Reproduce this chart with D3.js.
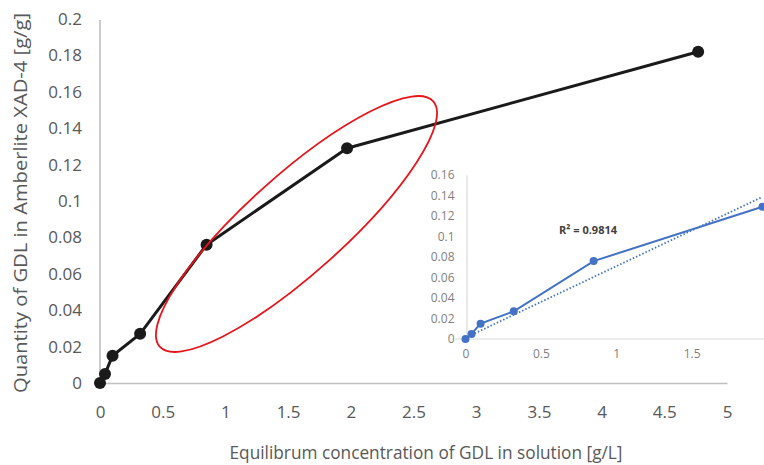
<!DOCTYPE html>
<html>
<head>
  <meta charset="utf-8">
  <script src="https://d3js.org/d3.v7.min.js"></script>
  <style>
    body { margin: 0; background: #fff; }
    text { font-family: "Open Sans", "Noto Sans", sans-serif; }
  </style>
</head>
<body>
<script>
  // isotherm points
  var conc = [0, 0.04, 0.10, 0.32, 0.85, 1.97, 4.77];
  var qty  = [0, 0.005, 0.015, 0.027, 0.076, 0.129, 0.182];

  // inset: first six points, plus the dotted linear trendline ends
  var insetConc = [0, 0.04, 0.10, 0.32, 0.85, 1.97];
  var insetQty  = [0, 0.005, 0.015, 0.027, 0.076, 0.129];
  var trendConc = [0.04, 1.96];
  var trendQty  = [0.004, 0.138];
  var r2Label = "R\u00B2 = 0.9814";

  var xTicks = [0, 0.5, 1, 1.5, 2, 2.5, 3, 3.5, 4, 4.5, 5];
  var yTicks = [0, 0.02, 0.04, 0.06, 0.08, 0.1, 0.12, 0.14, 0.16, 0.18, 0.2];
  var insetXTicks = [0, 0.5, 1, 1.5, 2];
  var insetYTicks = [0, 0.02, 0.04, 0.06, 0.08, 0.1, 0.12, 0.14, 0.16];

  var xTitle = "Equilibrum concentration of GDL in solution [g/L]";
  var yTitle = "Quantity of GDL in Amberlite XAD-4 [g/g]";

  var width = 764, height = 465;
  var svg = d3.select("body").append("svg")
      .attr("width", width)
      .attr("height", height);

  /* main chart */
  var x = d3.scaleLinear().domain([0, 5]).range([100, 727]);
  var y = d3.scaleLinear().domain([0, 0.2]).range([383, 19]);

  var xAxis = svg.append("g")
      .attr("transform", "translate(0," + y(0) + ")")
      .call(d3.axisBottom(x).tickValues(xTicks).tickSize(0).tickPadding(23)
            .tickFormat(function (d) { return String(d); }));
  var yAxis = svg.append("g")
      .attr("transform", "translate(" + x(0) + ",0)")
      .call(d3.axisLeft(y).tickValues(yTicks).tickSize(0).tickPadding(18)
            .tickFormat(function (d) { return String(d); }));
  yAxis.select(".domain").attr("d", "M0," + (y(0.2) + 1) + "V" + y(0));

  [xAxis, yAxis].forEach(function (g) {
    g.select(".domain").attr("stroke", "#bfbfbf").attr("stroke-width", 1.6);
    g.selectAll("text")
      .attr("fill", "#595959")
      .style("font-size", "17px");
  });

  svg.append("text")
      .attr("x", 426).attr("y", 459)
      .attr("text-anchor", "middle")
      .attr("fill", "#595959")
      .attr("textLength", 393)
      .attr("lengthAdjust", "spacingAndGlyphs")
      .style("font-size", "18px")
      .text(xTitle);

  svg.append("text")
      .attr("transform", "translate(27,203) rotate(-90)")
      .attr("text-anchor", "middle")
      .attr("fill", "#595959")
      .attr("textLength", 380)
      .attr("lengthAdjust", "spacingAndGlyphs")
      .style("font-size", "18px")
      .text(yTitle);

  var mainPts = conc.map(function (c, i) { return [c, qty[i]]; });
  svg.append("path")
      .datum(mainPts)
      .attr("fill", "none")
      .attr("stroke", "#1a1a1a")
      .attr("stroke-width", 3)
      .attr("stroke-linejoin", "round")
      .attr("d", d3.line().x(function (d) { return x(d[0]); })
                          .y(function (d) { return y(d[1]); }));
  svg.selectAll("circle.main")
    .data(mainPts)
    .enter().append("circle")
      .attr("class", "main")
      .attr("cx", function (d) { return x(d[0]); })
      .attr("cy", function (d) { return y(d[1]); })
      .attr("r", 6)
      .attr("fill", "#1a1a1a");

  /* inset chart */
  var ix = d3.scaleLinear().domain([0, 2]).range([465.5, 767]);
  var iy = d3.scaleLinear().domain([0, 0.16]).range([339, 175]);

  var ixAxis = svg.append("g")
      .attr("transform", "translate(0," + iy(0) + ")")
      .call(d3.axisBottom(ix).tickValues(insetXTicks).tickSize(0).tickPadding(10)
            .tickFormat(function (d) { return String(d); }));
  ixAxis.select(".domain").attr("d", "M455,0H764");
  var iyAxis = svg.append("g")
      .attr("transform", "translate(" + (ix(0) + 1) + ",0)")
      .call(d3.axisLeft(iy).tickValues(insetYTicks).tickSize(0).tickPadding(12)
            .tickFormat(function (d) { return String(d); }));
  [ixAxis, iyAxis].forEach(function (g) {
    g.select(".domain").attr("stroke", "#d9d9d9").attr("stroke-width", 1.2);
    g.selectAll("text")
      .attr("fill", "#7f7f7f")
      .style("font-size", "12px");
  });

  var trendPts = trendConc.map(function (c, i) { return [c, trendQty[i]]; });
  svg.append("path")
      .datum(trendPts)
      .attr("fill", "none")
      .attr("stroke", "#4472c4")
      .attr("stroke-width", 1.8)
      .attr("stroke-dasharray", "1.5,2")
      .attr("d", d3.line().x(function (d) { return ix(d[0]); })
                          .y(function (d) { return iy(d[1]); }));

  var insetPts = insetConc.map(function (c, i) { return [c, insetQty[i]]; });
  svg.append("path")
      .datum(insetPts)
      .attr("fill", "none")
      .attr("stroke", "#4472c4")
      .attr("stroke-width", 2)
      .attr("d", d3.line().x(function (d) { return ix(d[0]); })
                          .y(function (d) { return iy(d[1]); }));
  svg.selectAll("circle.inset")
    .data(insetPts)
    .enter().append("circle")
      .attr("class", "inset")
      .attr("cx", function (d) { return ix(d[0]); })
      .attr("cy", function (d) { return iy(d[1]); })
      .attr("r", 4)
      .attr("fill", "#4472c4");

  svg.append("text")
      .attr("x", 559).attr("y", 234)
      .attr("fill", "#404040")
      .style("font-size", "11px")
      .style("font-weight", "bold")
      .text(r2Label);

  /* red ellipse highlighting the middle section */
  svg.append("ellipse")
      .attr("transform", "translate(296.5,224) rotate(-41.9)")
      .attr("rx", 183.7)
      .attr("ry", 48.9)
      .attr("fill", "none")
      .attr("stroke", "#e8141b")
      .attr("stroke-width", 1.8);
</script>
</body>
</html>
